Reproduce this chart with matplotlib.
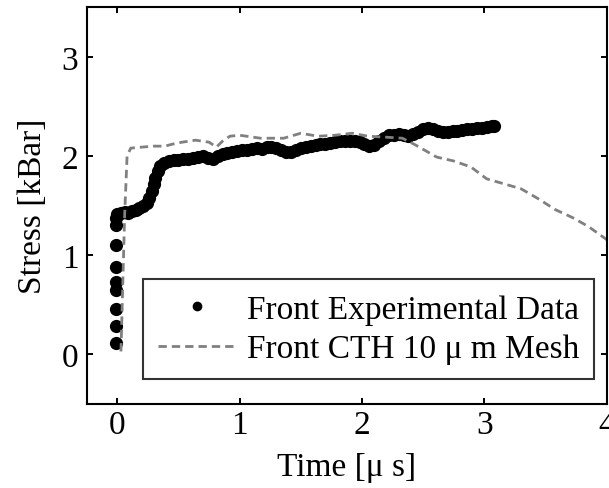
import matplotlib
matplotlib.use("Agg")
import matplotlib.pyplot as plt

plt.rcParams['font.family'] = ['Liberation Serif', 'DejaVu Serif']

# Experimental data (time in microseconds, stress in kBar)
exp_time = [-0.01, -0.01, -0.01, -0.01, -0.01, -0.01, -0.01, -0.01, -0.01,
            0.00, 0.03, 0.06, 0.09, 0.12, 0.15, 0.18, 0.21, 0.24, 0.26, 0.28,
            0.30, 0.31, 0.33, 0.35, 0.38, 0.42, 0.46, 0.50, 0.54, 0.58, 0.62,
            0.66, 0.70, 0.74, 0.78, 0.82, 0.86, 0.90, 0.94, 0.98, 1.02, 1.06,
            1.10, 1.14, 1.18, 1.22, 1.26, 1.30, 1.34, 1.38, 1.42, 1.46, 1.50,
            1.54, 1.58, 1.62, 1.66, 1.70, 1.74, 1.78, 1.82, 1.86, 1.90, 1.94,
            1.98, 2.02, 2.06, 2.10, 2.14, 2.18, 2.22, 2.26, 2.30, 2.34, 2.38,
            2.42, 2.46, 2.50, 2.54, 2.58, 2.62, 2.66, 2.70, 2.74, 2.78, 2.82,
            2.86, 2.90, 2.94, 2.98, 3.02, 3.06, 3.08]
exp_stress = [0.12, 0.29, 0.46, 0.65, 0.73, 0.88, 1.10, 1.30, 1.38,
              1.42, 1.43, 1.44, 1.43, 1.45, 1.46, 1.48, 1.50, 1.53, 1.58, 1.65,
              1.72, 1.78, 1.85, 1.90, 1.93, 1.95, 1.96, 1.96, 1.97, 1.97, 1.98,
              1.99, 2.00, 1.98, 1.97, 2.00, 2.02, 2.03, 2.04, 2.05, 2.06, 2.06,
              2.07, 2.08, 2.07, 2.09, 2.09, 2.08, 2.06, 2.04, 2.04, 2.06, 2.08,
              2.09, 2.10, 2.11, 2.12, 2.12, 2.13, 2.14, 2.15, 2.15, 2.15, 2.15,
              2.14, 2.12, 2.10, 2.11, 2.15, 2.18, 2.21, 2.21, 2.22, 2.21, 2.20,
              2.22, 2.24, 2.27, 2.28, 2.27, 2.25, 2.24, 2.24, 2.25, 2.25, 2.26,
              2.27, 2.27, 2.28, 2.28, 2.29, 2.30, 2.30]

# CTH simulation
cth_time = [0.03, 0.06, 0.08, 0.11, 0.20, 0.30, 0.39, 0.45, 0.53, 0.64, 0.75,
            0.81, 0.86, 0.92, 1.00, 1.17, 1.36, 1.50, 1.64, 1.78, 1.92, 2.05,
            2.20, 2.33, 2.44, 2.61, 2.75, 2.89, 3.02, 3.16, 3.30, 3.44, 3.58,
            3.72, 3.85, 4.02]
cth_stress = [0.03, 1.40, 2.00, 2.08, 2.09, 2.10, 2.10, 2.12, 2.14, 2.16, 2.14,
              2.09, 2.15, 2.20, 2.21, 2.18, 2.18, 2.23, 2.20, 2.21, 2.23, 2.20,
              2.19, 2.18, 2.11, 1.99, 1.95, 1.89, 1.77, 1.72, 1.67, 1.57, 1.46,
              1.38, 1.29, 1.14]

x_ticks = [0, 1, 2, 3, 4]
y_ticks = [0, 1, 2, 3]

FS = 24

fig = plt.figure(figsize=(6.09, 4.89), dpi=100)
ax = fig.add_axes([86.7 / 609, 1 - 405 / 489, 520 / 609, 396.7 / 489])

ax.plot(exp_time, exp_stress, 'o', color='black', markersize=9.5,
        markeredgewidth=0, label='Front Experimental Data')
ax.plot(cth_time, cth_stress, color='#808080', linewidth=2.0,
        dashes=(3, 1.8), label='Front CTH 10 \u03bc m Mesh')

ax.set_xlim(-0.25, 4)
ax.set_ylim(-0.5, 3.5)
ax.set_xticks(x_ticks)
ax.set_yticks(y_ticks)
ax.tick_params(direction='in', length=4.5, width=1.4, top=True, right=True,
               labelsize=FS)
ax.tick_params(axis='x', pad=4)
ax.tick_params(axis='y', pad=6)
for s in ax.spines.values():
    s.set_linewidth(1.5)

ax.set_xlabel('Time [\u03bc s]', fontsize=FS, labelpad=8)
ax.set_ylabel('Stress [kBar]', fontsize=FS, labelpad=10)

leg = ax.legend(loc='lower right', bbox_to_anchor=(0.9756, 0.0618),
                borderaxespad=0, fontsize=FS, frameon=True, fancybox=False,
                edgecolor='black', handlelength=2.34, handletextpad=0.32,
                labelspacing=0.27, borderpad=0.45)
leg.get_frame().set_linewidth(1.5)
leg.legend_handles[0].set_markersize(7)

fig.savefig('out.png', dpi=100)
